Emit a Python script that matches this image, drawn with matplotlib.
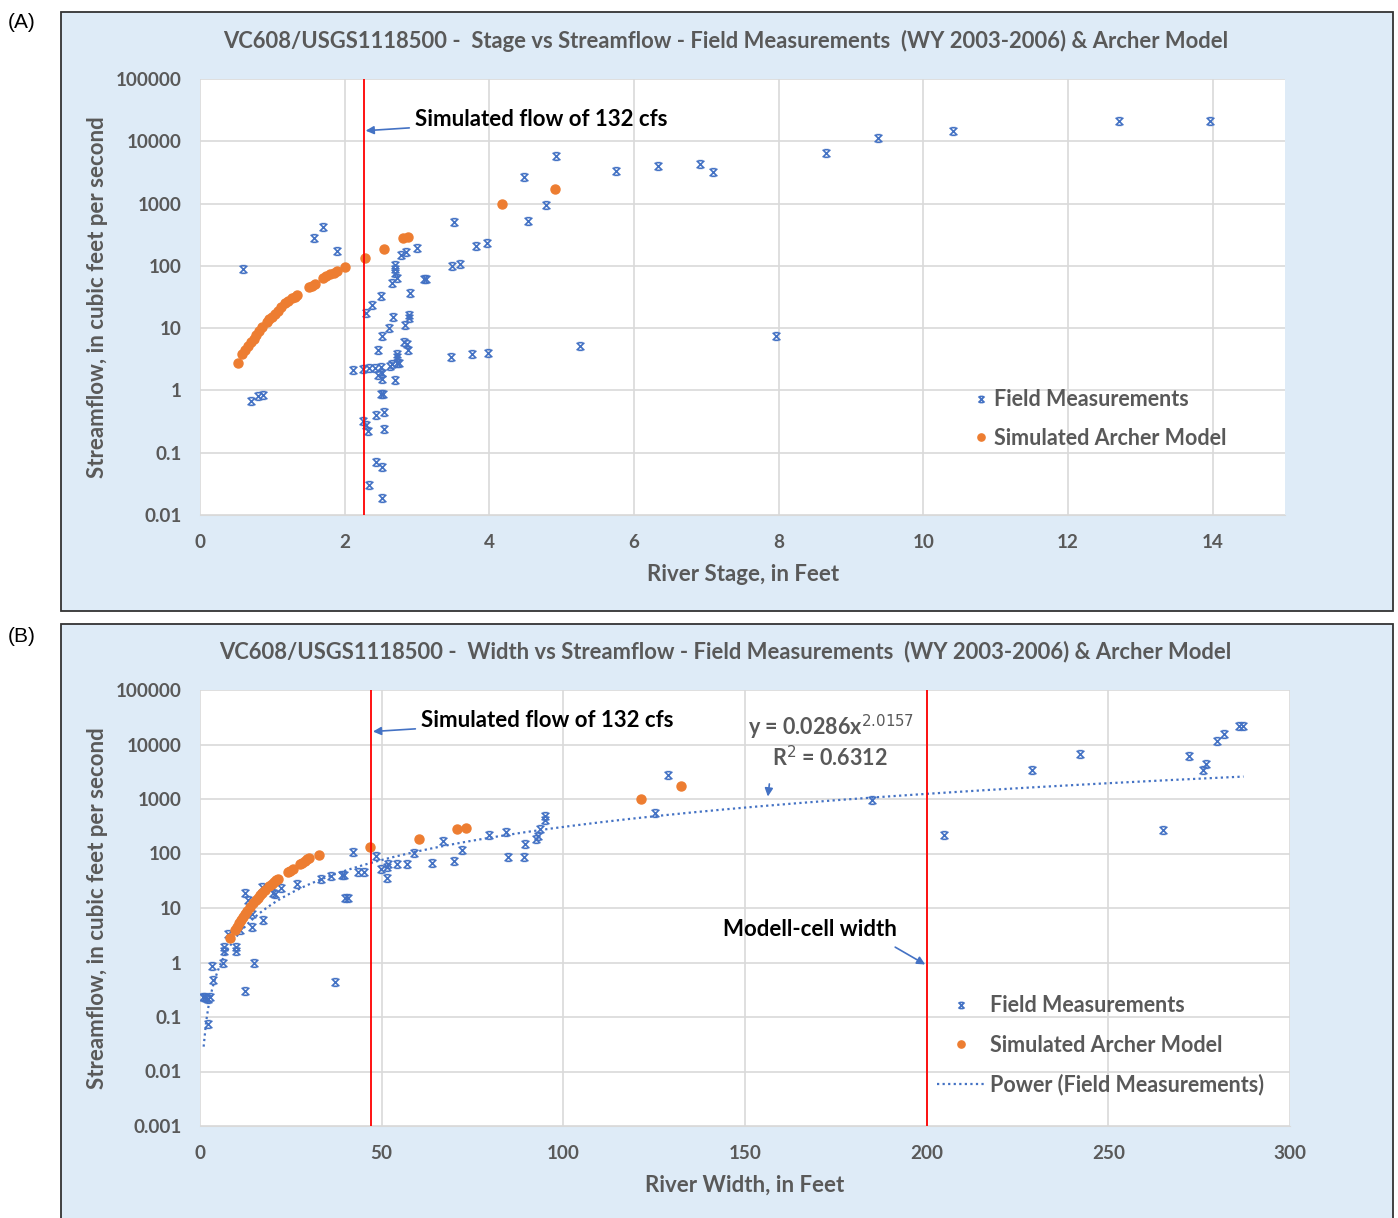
import numpy as np
import matplotlib
matplotlib.use("Agg")
import matplotlib.pyplot as plt
from matplotlib.path import Path
from matplotlib.patches import Rectangle

W, H = 1398, 1218
plt.rcParams['font.family'] = ['Lato', 'DejaVu Sans']

# ---- data: Archer model (shared between panels) ----
model_flow = [2.8, 3.9, 4.5, 5.2, 6.0, 6.8, 7.8, 8.9, 10.5, 12.5, 14, 15, 17, 19, 21.5, 25, 27.5, 30, 32, 34,
              45, 48, 52, 64, 68, 73, 78, 82, 95, 132, 185, 277, 290, 1000, 1700]
model_stage = [0.52, 0.58, 0.62, 0.66, 0.70, 0.74, 0.78, 0.81, 0.86, 0.92, 0.96, 0.99, 1.04, 1.08, 1.12, 1.17,
               1.22, 1.27, 1.31, 1.34, 1.50, 1.55, 1.59, 1.70, 1.74, 1.80, 1.85, 1.89, 2.00, 2.28, 2.54, 2.81,
               2.88, 4.17, 4.91]
model_width = [8.2, 9.6, 10.2, 10.8, 11.3, 11.8, 12.4, 13.0, 13.7, 14.7, 15.4, 15.9, 16.6, 17.2, 17.9, 19.1,
               19.8, 20.5, 21.0, 21.4, 24.2, 24.8, 25.5, 27.5, 28.1, 28.9, 29.5, 29.9, 32.8, 46.8, 60.4, 70.8,
               73.1, 121.3, 132.4]

# ---- data: field measurements, stage vs flow (panel A) ----
field_stage = [0.59, 0.70, 0.80, 0.87, 1.57, 1.70, 1.89, 2.29, 2.38, 2.50, 2.69, 2.69, 2.69, 2.73, 2.66,
               2.78, 2.85, 3.00, 2.91, 3.09, 3.12, 3.51, 3.49, 3.59, 3.81, 3.97, 4.54, 4.78, 4.48, 4.92,
               2.67, 2.89, 2.89, 2.83, 2.61, 2.52, 2.46, 2.82, 2.86, 2.88, 2.72, 2.72, 2.65, 2.72, 2.75,
               2.12, 2.26, 2.33, 2.42, 2.50, 2.63, 2.46, 2.52, 2.52, 2.69, 2.50, 2.53, 2.44, 2.55, 2.25,
               2.30, 2.32, 2.55, 2.44, 2.52, 2.34, 2.52, 5.25, 3.47, 3.76, 3.98, 5.75, 6.33, 6.91, 7.09,
               8.66, 9.37, 10.41, 12.70, 13.96, 7.97]
field_flow_a = [88, 0.68, 0.80, 0.85, 280, 420, 172, 17.7, 23.7, 33, 104, 89, 77, 64, 53,
                147, 170, 197, 37, 62, 62, 500, 98, 107, 208, 230, 520, 955, 2630, 5900,
                15, 16.4, 14.5, 11.3, 10, 7.4, 4.5, 6.0, 5.6, 4.5, 3.9, 3.4, 2.7, 2.8, 2.8,
                2.1, 2.2, 2.3, 2.3, 2.4, 2.45, 1.8, 1.9, 1.54, 1.49, 0.88, 0.88, 0.41, 0.45, 0.32,
                0.28, 0.22, 0.24, 0.071, 0.060, 0.030, 0.019, 5.1, 3.4, 3.8, 4.0, 3360, 4080, 4360, 3180,
                6500, 11400, 14500, 20800, 20800, 7.6]

# ---- data: field measurements, width vs flow (panel B) ----
field_width = [0.8, 1.4, 1.7, 2.8, 2.2, 2.1, 3.7, 3.2, 6.2, 6.7, 6.7, 9.8, 9.8, 7.6, 12.4, 14.9, 14.4,
               17.3, 11.0, 14.4, 12.4, 13.3, 17.0, 20.2, 20.6, 22.3, 26.6, 33.3, 36.1, 39.0, 39.7, 40.0,
               40.6, 37.2, 42.0, 43.6, 45.0, 48.4, 49.7, 51.4, 51.8, 51.6, 54.1, 57.1, 59.0, 63.8, 66.8,
               69.9, 72.2, 79.5, 84.1, 84.9, 89.2, 89.5, 92.4, 93.1, 93.6, 94.9, 94.9, 128.9, 125.2,
               184.9, 204.9, 229.0, 242.1, 265.1, 272.2, 276.0, 277.0, 279.9, 281.9, 285.9, 287.2]
field_flow_b = [0.23, 0.23, 0.22, 0.23, 0.073, 0.21, 0.47, 0.88, 0.99, 1.6, 1.9, 1.6, 1.9, 3.3, 0.30, 0.99, 4.4,
                6.0, 3.9, 7.6, 19, 14.3, 24.5, 19, 17.7, 22.8, 27, 34, 38, 40, 41, 15.4,
                15.4, 0.44, 107, 46, 46, 89, 51, 56, 63, 36, 65, 65, 103, 67, 173,
                72, 115, 216, 246, 87, 87, 152, 188, 208, 287, 480, 420, 2740, 560,
                950, 214, 3470, 6800, 268, 6100, 3470, 4300, 11500, 15700, 22300, 22300]

# power trend shown on chart (Excel fit)
fit_a, fit_b = 0.0286, 2.0157
fit_x = np.linspace(1.0, 287.2, 400)

yt_a = [0.01, 0.1, 1, 10, 100, 1000, 10000, 100000]
yt_b = [0.001, 0.01, 0.1, 1, 10, 100, 1000, 10000, 100000]

BLUE = '#4472C4'
ORANGE = '#ED7D31'
GRAY = '#595959'
GRID = '#D9D9D9'
BG = '#DEEBF7'

star = Path([(-1, -1), (1, 1), (-1, 1), (1, -1), (-0.6, 1), (0.6, 1), (-0.6, -1), (0.6, -1)],
            [Path.MOVETO, Path.LINETO, Path.MOVETO, Path.LINETO,
             Path.MOVETO, Path.LINETO, Path.MOVETO, Path.LINETO])

fig = plt.figure(figsize=(W / 100, H / 100), dpi=100)


def box(x0, y0, x1, y1):
    return [x0 / W, 1 - y1 / H, (x1 - x0) / W, (y1 - y0) / H]


def ftext(px, py, s, **kw):
    fig.text(px / W, 1 - py / H, s, **kw)


# panel backgrounds
for y0, y1 in [(12, 611), (624, 1230)]:
    fig.patches.append(Rectangle((61 / W, 1 - y1 / H), (1393 - 61) / W, (y1 - y0) / H,
                                 transform=fig.transFigure, facecolor=BG, edgecolor='#333333',
                                 lw=1.3, zorder=-5))

ftext(8, 22, '(A)', fontsize=15, family='Liberation Sans', va='center')
ftext(8, 636, '(B)', fontsize=15, family='Liberation Sans', va='center')


def fmt(v):
    return f'{v:g}' if v < 1 else f'{int(v)}'


def style(ax, yt):
    ax.set_facecolor('white')
    ax.set_yscale('log')
    ax.set_yticks(yt)
    ax.set_yticklabels([fmt(v) for v in yt])
    ax.minorticks_off()
    ax.grid(True, which='major', color=GRID, lw=1.2)
    ax.set_axisbelow(True)
    for s in ax.spines.values():
        s.set_visible(False)
    ax.spines['bottom'].set_visible(True)
    ax.spines['bottom'].set_color(GRID)
    ax.tick_params(length=0, labelsize=13.6, labelcolor=GRAY)
    ax.tick_params(axis='x', pad=14)
    ax.tick_params(axis='y', pad=13)
    for lab in ax.get_xticklabels() + ax.get_yticklabels():
        lab.set_fontweight('bold')


LAB = dict(ha='center', va='center', fontsize=16, fontweight='bold', color=GRAY)
TITLE = dict(ha='center', va='center', fontsize=15.8, fontweight='bold', color=GRAY)
NOTE = dict(fontsize=16, fontweight='bold', color='black', va='center', ha='left')
ARROW = dict(arrowstyle='-|>', color=BLUE, lw=1.2, mutation_scale=12, shrinkB=0)

# ---------------- Panel A ----------------
ax1 = fig.add_axes(box(200, 79, 1285, 515))
ax1.plot(field_stage, field_flow_a, ls='none', marker=star, ms=5.5, mec=BLUE, mfc='none', mew=1.2,
         label='Field Measurements', zorder=3)
ax1.plot(model_stage, model_flow, ls='none', marker='o', ms=6.5, color=ORANGE, mec=ORANGE,
         label='Simulated Archer Model', zorder=4)
ax1.axvline(2.27, color='red', lw=1.3, zorder=5)
ax1.set_xlim(0, 15)
ax1.set_ylim(0.01, 100000)
ax1.set_xticks(range(0, 15, 2))
style(ax1, yt_a)
ax1.annotate('Simulated flow of 132 cfs', xy=(2.29, 14800), xytext=(2.97, 22400),
             arrowprops=dict(shrinkA=2, **ARROW), **NOTE)
ax1.legend(loc='upper left', bbox_to_anchor=(951 / W, 1 - 370 / H), bbox_transform=fig.transFigure,
           frameon=False, labelcolor=GRAY, prop={'weight': 'bold', 'size': 15.5},
           handletextpad=0.1, labelspacing=0.8, handlelength=1.0, markerscale=0.8)

ftext(726, 41, 'VC608/USGS1118500 -  Stage vs Streamflow - Field Measurements  (WY 2003-2006) & Archer Model',
      **TITLE)
ftext(743, 575, 'River Stage, in Feet', **LAB)
ftext(98, 297, 'Streamflow, in cubic feet per second', rotation=90, **LAB)

# ---------------- Panel B ----------------
ax2 = fig.add_axes(box(200, 690, 1290, 1126))
ax2.plot(field_width, field_flow_b, ls='none', marker=star, ms=5.5, mec=BLUE, mfc='none', mew=1.2,
         label='Field Measurements', zorder=3)
ax2.plot(model_width, model_flow, ls='none', marker='o', ms=6.5, color=ORANGE, mec=ORANGE,
         label='Simulated Archer Model', zorder=4)
ax2.plot(fit_x, fit_a * fit_x ** fit_b, ls=(0, (1, 1.5)), color=BLUE, lw=1.6,
         label='Power (Field Measurements)', zorder=2)
ax2.axvline(47.0, color='red', lw=1.3, zorder=5)
ax2.axvline(200, color='red', lw=1.3, zorder=5)
ax2.set_xlim(0, 300)
ax2.set_ylim(0.001, 100000)
ax2.set_xticks(range(0, 301, 50))
style(ax2, yt_b)
ax2.annotate('Simulated flow of 132 cfs', xy=(47.6, 17300), xytext=(60.8, 27500),
             arrowprops=dict(shrinkA=2, **ARROW), **NOTE)
ax2.text(150.8, 20500, r'y = 0.0286x$^{2.0157}$', fontsize=15.5, fontweight='bold', color=GRAY,
         va='center', ha='left')
ax2.annotate(r'R$^2$ = 0.6312', xy=(156.3, 1110), xytext=(157.4, 5760),
             fontsize=15.5, fontweight='bold', color=GRAY, va='center', ha='left',
             arrowprops=dict(shrinkA=8, relpos=(0, 0.3), **ARROW))
ax2.annotate('Modell-cell width', xy=(199.6, 0.92), xytext=(144, 4.0),
             arrowprops=dict(shrinkA=6, relpos=(0.92, 0), **ARROW), **NOTE)
ax2.legend(loc='upper left', bbox_to_anchor=(918 / W, 1 - 976 / H), bbox_transform=fig.transFigure,
           frameon=False, labelcolor=GRAY, prop={'weight': 'bold', 'size': 15.5},
           handletextpad=0.25, labelspacing=0.85, handlelength=2.2, markerscale=0.8)

ftext(725, 652, 'VC608/USGS1118500 -  Width vs Streamflow - Field Measurements  (WY 2003-2006) & Archer Model',
      **TITLE)
ftext(745, 1185, 'River Width, in Feet', **LAB)
ftext(98, 908, 'Streamflow, in cubic feet per second', rotation=90, **LAB)

fig.savefig('out.png', dpi=100)
